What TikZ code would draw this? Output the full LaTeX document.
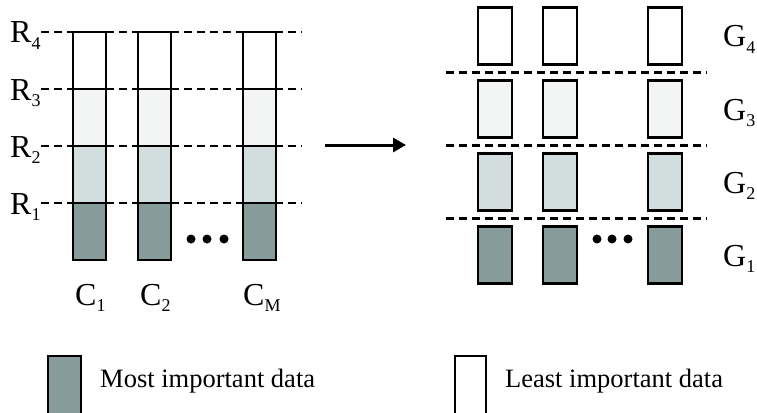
\documentclass[tikz,border=0pt]{standalone}
\usepackage{fontspec}
\setmainfont{Liberation Serif}
\usetikzlibrary{arrows.meta}

\definecolor{imp1}{RGB}{135,155,154}
\definecolor{imp2}{RGB}{210,221,221}
\definecolor{imp3}{RGB}{243,245,244}
\newcommand{\lsub}[1]{\raisebox{-0.2em}{\fontsize{18}{18}\selectfont #1}}

\begin{document}
\begin{tikzpicture}[x=1pt, y=-1pt,
  cell/.style={draw, line width=2.2pt, minimum width=33pt, minimum height=57pt, inner sep=0pt},
  sep/.style={line width=2.6pt, dash pattern=on 8pt off 5pt},
  lbl/.style={anchor=base west, inner sep=0pt, font=\fontsize{32}{36}\selectfont},
  legend/.style={anchor=base west, inner sep=0pt, font=\fontsize{26.5}{30}\selectfont}]

  \useasboundingbox (0,0) rectangle (757,412);

  % Columns split into layers
  \foreach \c/\x in {1/89.5, 2/154.5, M/259.5}
    \foreach \r/\f in {1/imp1, 2/imp2, 3/imp3, 4/white}
      \node[cell, fill=\f] (c\c r\r) at (\x, 288.5-57*\r) {};
  \foreach \r in {1,...,4} {
    \node[lbl] (R\r) at (10, 271-57*\r) {R\lsub{\r}};
    \draw[sep] (41, 260-57*\r) -- (302, 260-57*\r);
  }
  \node[lbl] (C1) at (75,305) {C\lsub{1}};
  \node[lbl] (C2) at (140,305) {C\lsub{2}};
  \node[lbl] (CM) at (243,305) {C\lsub{M}};
  \foreach \x in {191,207,224} \fill (\x,239) circle (4.5pt);

  % Transformation
  \coordinate (from) at (325,145);
  \coordinate (to) at (406,145);
  \draw[line width=3pt, -{Triangle[length=13pt, width=14pt]}] (from) -- (to);

  % Groups
  \foreach \c/\x in {1/495, 2/560, M/665}
    \foreach \r/\f in {1/imp1, 2/imp2, 3/imp3, 4/white}
      \node[cell, minimum width=34pt, fill=\f] (g\c r\r) at (\x, 328-73*\r) {};
  \foreach \r in {1,2,3}
    \draw[sep] (446, 291.5-73*\r) -- (707, 291.5-73*\r);
  \foreach \r in {1,...,4}
    \node[lbl] (G\r) at (723, 339-73*\r) {G\lsub{\r}};
  \foreach \x in {597,612,628} \fill (\x,239) circle (4.5pt);

  % Legend
  \filldraw[fill=imp1, line width=2.2pt] (48,414) -- (48,356) -- (81,356) -- (81,414);
  \node[legend] (most) at (100,387) {Most important data};
  \filldraw[fill=white, line width=2.2pt] (455,414) -- (455,356) -- (486,356) -- (486,414);
  \node[legend] (least) at (505,387) {Least important data};

\end{tikzpicture}
\end{document}
